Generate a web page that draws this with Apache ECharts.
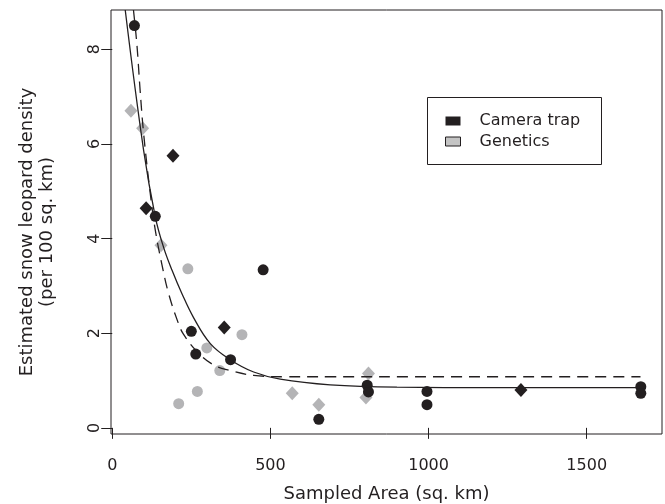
<!DOCTYPE html>
<html>
<head>
<meta charset="utf-8">
<script src="https://cdn.jsdelivr.net/npm/echarts@6/dist/echarts.min.js"></script>
<style>
  html, body { margin: 0; padding: 0; background: #fff; }
  #main { width: 665px; height: 504px; }
</style>
</head>
<body>
<div id="main"></div>
<script>
// values: [sampled area, density]
var cameraCircles = [
  [70, 8.50], [136, 4.47], [477, 3.34], [250, 2.04], [264, 1.56], [374, 1.44],
  [653, 0.18], [806, 0.90], [810, 0.76], [995, 0.77], [995, 0.49],
  [1671, 0.87], [1671, 0.73]
];
var cameraDiamonds = [[192, 5.75], [107, 4.64], [354, 2.12], [1292, 0.80]];
var geneticsCircles = [
  [239, 3.36], [410, 1.97], [299, 1.69], [340, 1.21], [269, 0.77], [210, 0.51]
];
var geneticsDiamonds = [
  [59, 6.70], [96, 6.33], [154, 3.86], [569, 0.73], [653, 0.49], [810, 1.15], [802, 0.64]
];
// fitted curves
var solidFit = [
  [41, 8.83], [99, 5.87], [136, 4.46], [162, 3.82], [189, 3.33], [220, 2.84],
  [257, 2.33], [310, 1.78], [373, 1.44], [447, 1.18], [531, 1.03], [689, 0.91],
  [900, 0.86], [1200, 0.85], [1680, 0.85]
];
var dashedFit = [
  [67, 8.83], [78, 8.09], [88, 7.14], [99, 6.23], [120, 4.96], [136, 4.18],
  [157, 3.45], [178, 2.84], [209, 2.21], [225, 1.98], [268, 1.61], [320, 1.33],
  [373, 1.21], [447, 1.11], [550, 1.08], [689, 1.08], [1000, 1.08], [1670, 1.08]
];
var xTicks = [0, 500, 1000, 1500];
var yTicks = [0, 2, 4, 6, 8];

var ink = '#231f20';
var grey = '#b4b4b6';
var font = 'DejaVu Sans';

var chart = echarts.init(document.getElementById('main'));

var option = {
  animation: false,
  backgroundColor: '#fff',
  textStyle: { fontFamily: font },
  grid: {
    left: 111, right: 3, top: 10, bottom: 70,
    outerBoundsMode: 'none',
    show: true, borderColor: ink, borderWidth: 1
  },
  xAxis: {
    type: 'value',
    min: -4, max: 1738,
    name: 'Sampled Area (sq. km)',
    nameLocation: 'middle',
    nameGap: 51,
    nameTextStyle: { fontSize: 18, color: ink, fontFamily: font },
    axisLine: { show: false },
    splitLine: { show: false },
    axisTick: { show: true, customValues: xTicks, length: 11, lineStyle: { color: ink } },
    axisLabel: {
      customValues: xTicks, margin: 24, fontSize: 16, color: ink, fontFamily: font,
      formatter: function (v) { return String(v); }
    }
  },
  yAxis: {
    type: 'value',
    min: -0.13, max: 8.83,
    name: 'Estimated snow leopard density\n(per 100 sq. km)',
    nameLocation: 'middle',
    nameGap: 54,
    nameTextStyle: { fontSize: 18, lineHeight: 20, color: ink, fontFamily: font, padding: [0, 20, 0, 0] },
    axisLine: { show: false },
    splitLine: { show: false },
    axisTick: { show: true, customValues: yTicks, length: 11, lineStyle: { color: ink } },
    axisLabel: {
      customValues: yTicks, rotate: 90, margin: 8, fontSize: 16, color: ink, fontFamily: font,
      formatter: function (v) { return String(v); }
    }
  },
  legend: {
    orient: 'vertical',
    left: 445, top: 113, padding: 0,
    itemWidth: 15, itemHeight: 9, itemGap: 4.5,
    textStyle: { fontSize: 16, color: ink, fontFamily: font, padding: [0, 0, 0, 14] },
    data: [
      { name: 'Camera trap', icon: 'rect', itemStyle: { color: ink, borderWidth: 0 } },
      { name: 'Genetics', icon: 'rect', itemStyle: { color: '#c4c4c4', borderColor: ink, borderWidth: 1 } }
    ]
  },
  graphic: [{
    type: 'rect',
    shape: { x: 427.5, y: 97.5, width: 174, height: 67 },
    style: { fill: 'none', stroke: ink, lineWidth: 1 }
  }],
  series: [
    {
      name: 'Genetics', type: 'scatter', symbol: 'circle', symbolSize: 11,
      itemStyle: { color: grey, opacity: 1 }, data: geneticsCircles
    },
    {
      name: 'Genetics', type: 'scatter', symbol: 'diamond', symbolSize: [13, 14],
      itemStyle: { color: grey, opacity: 1 }, data: geneticsDiamonds
    },
    {
      name: 'Camera trap', type: 'scatter', symbol: 'circle', symbolSize: 11,
      itemStyle: { color: ink, opacity: 1 }, data: cameraCircles
    },
    {
      name: 'Camera trap', type: 'scatter', symbol: 'diamond', symbolSize: [13, 14],
      itemStyle: { color: ink, opacity: 1 }, data: cameraDiamonds
    },
    {
      name: 'fit', type: 'line', data: solidFit, smooth: 0.4,
      showSymbol: false, silent: true,
      lineStyle: { color: ink, width: 1.3 }
    },
    {
      name: 'fit2', type: 'line', data: dashedFit, smooth: 0.4,
      showSymbol: false, silent: true,
      lineStyle: { color: ink, width: 1.3, type: [11, 7] }
    }
  ]
};

chart.setOption(option);
</script>
</body>
</html>
